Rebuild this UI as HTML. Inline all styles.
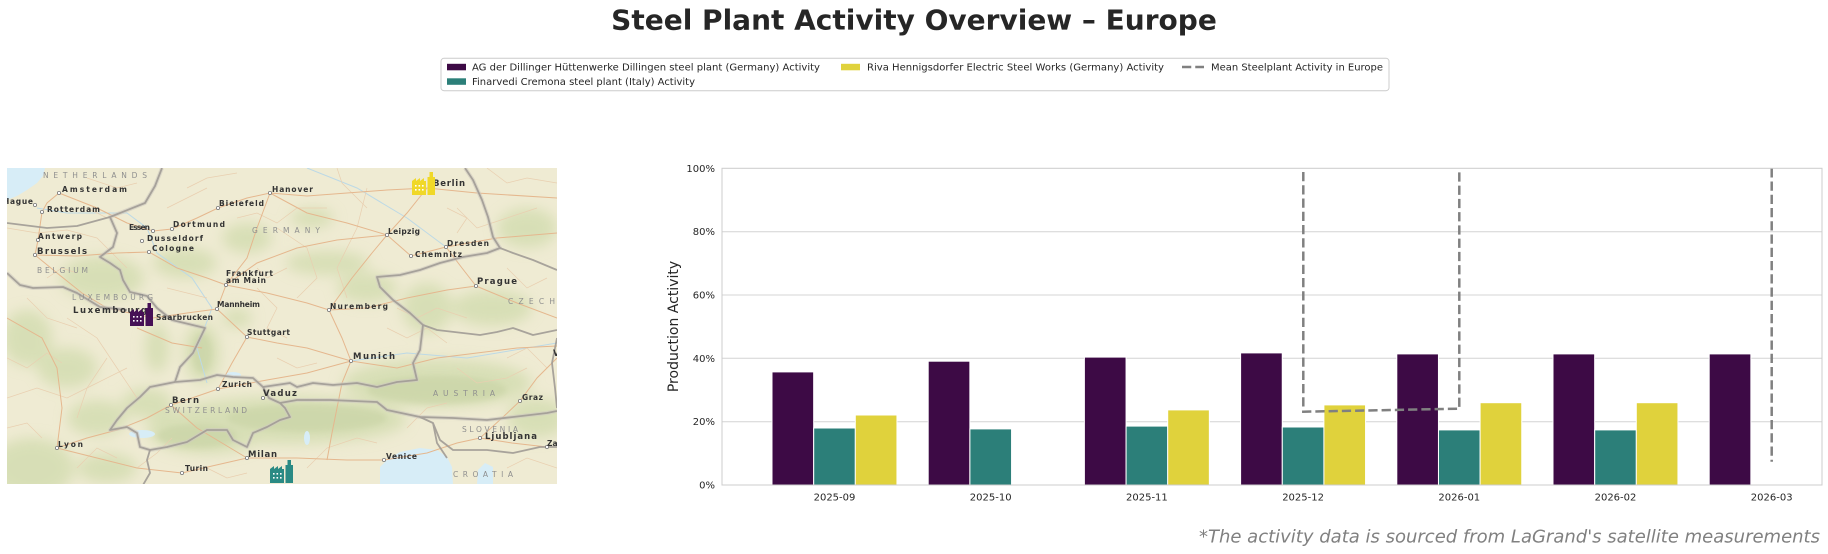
<!DOCTYPE html>
<html>
<head>
<meta charset="utf-8">
<style>
  html,body{margin:0;padding:0;background:#fff;}
  svg{display:block;}
  text{font-family:"DejaVu Sans","Liberation Sans",sans-serif;}
</style>
</head>
<body>
<svg width="1828" height="554" viewBox="0 0 1828 554" xmlns="http://www.w3.org/2000/svg">
  <defs>
    <clipPath id="mc"><rect x="0" y="0" width="550" height="316"/></clipPath>
    <clipPath id="pc"><rect x="722" y="168.3" width="1100" height="316.7"/></clipPath>
    <filter id="bl" x="-30%" y="-30%" width="160%" height="160%"><feGaussianBlur stdDeviation="7"/></filter>
    <filter id="bl2" x="-30%" y="-30%" width="160%" height="160%"><feGaussianBlur stdDeviation="3"/></filter>
  </defs>

  <!-- Title -->
  <text x="914" y="29.3" text-anchor="middle" font-size="28" font-weight="bold" fill="#262626">Steel Plant Activity Overview – Europe</text>

  <!-- Legend -->
  <rect x="441" y="58.3" width="948" height="32.4" rx="3" fill="#fff" stroke="#cccccc" stroke-width="1"/>
  <rect x="447" y="63.8" width="19" height="6.5" fill="#3d0a45"/>
  <text x="472" y="70.6" font-size="10" fill="#262626" textLength="348" lengthAdjust="spacingAndGlyphs">AG der Dillinger Hüttenwerke Dillingen steel plant (Germany) Activity</text>
  <rect x="447" y="78.3" width="19" height="6.5" fill="#2c7f79"/>
  <text x="472" y="85.1" font-size="10" fill="#262626" textLength="223" lengthAdjust="spacingAndGlyphs">Finarvedi Cremona steel plant (Italy) Activity</text>
  <rect x="841" y="63.8" width="19" height="6.5" fill="#e0d23c"/>
  <text x="867" y="70.6" font-size="10" fill="#262626" textLength="297" lengthAdjust="spacingAndGlyphs">Riva Hennigsdorfer Electric Steel Works (Germany) Activity</text>
  <line x1="1182" y1="67" x2="1204" y2="67" stroke="#808080" stroke-width="2.5" stroke-dasharray="9.25,4"/>
  <text x="1211" y="70.6" font-size="10" fill="#262626" textLength="172" lengthAdjust="spacingAndGlyphs">Mean Steelplant Activity in Europe</text>

  <!-- MAP -->
  <g transform="translate(7,168)">
    <g clip-path="url(#mc)">
      <rect x="0" y="0" width="550" height="316" fill="#efebd3"/>
      <!-- green relief -->
      <g fill="#d2dcaf" filter="url(#bl)" opacity="0.8">
        <ellipse cx="95" cy="110" rx="42" ry="22"/>
        <ellipse cx="178" cy="95" rx="32" ry="15"/>
        <ellipse cx="305" cy="50" rx="22" ry="10"/>
        <ellipse cx="320" cy="95" rx="42" ry="12"/>
        <ellipse cx="195" cy="185" rx="18" ry="30"/>
        <ellipse cx="150" cy="180" rx="12" ry="25"/>
        <ellipse cx="420" cy="140" rx="25" ry="25"/>
        <ellipse cx="485" cy="140" rx="40" ry="18"/>
        <ellipse cx="280" cy="252" rx="120" ry="24"/>
        <ellipse cx="430" cy="215" rx="95" ry="24"/>
        <ellipse cx="200" cy="262" rx="60" ry="24"/>
        <ellipse cx="140" cy="235" rx="25" ry="15"/>
        <ellipse cx="25" cy="300" rx="42" ry="30"/>
        <ellipse cx="90" cy="250" rx="30" ry="18"/>
        <ellipse cx="530" cy="250" rx="30" ry="20"/>
        <ellipse cx="20" cy="170" rx="25" ry="28"/>
        <ellipse cx="230" cy="150" rx="15" ry="10"/>
        <ellipse cx="360" cy="120" rx="30" ry="15"/>
        <ellipse cx="240" cy="70" rx="25" ry="15"/>
        <ellipse cx="520" cy="60" rx="30" ry="20"/>
        <ellipse cx="60" cy="200" rx="30" ry="20"/>
        <ellipse cx="100" cy="300" rx="30" ry="15"/>
      </g>
      <g fill="#c8d3a4" filter="url(#bl2)" opacity="0.6">
        <ellipse cx="300" cy="250" rx="80" ry="14"/>
        <ellipse cx="430" cy="222" rx="70" ry="14"/>
        <ellipse cx="190" cy="268" rx="40" ry="12"/>
        <ellipse cx="195" cy="185" rx="10" ry="20"/>
      </g>
      <!-- water -->
      <polygon points="0,0 38,0 36,8 30,15 20,22 10,28 0,32" fill="#d7edf7"/>
      <polygon points="373,299 380,292 393,284 413,280 430,282 440,289 445,299 446,317 373,317" fill="#d7edf7"/>
      <polygon points="470,317 471,302 478,295 486,299 486,317" fill="#d7edf7"/>
      <ellipse cx="135" cy="266" rx="13" ry="4" fill="#d7edf7"/>
      <ellipse cx="226" cy="207" rx="8" ry="3" fill="#d7edf7"/>
      <ellipse cx="300" cy="270" rx="3" ry="7" fill="#d7edf7"/>
      <!-- rivers -->
      <g fill="none" stroke="#bcd9e6" stroke-width="1">
        <polyline points="200,215 190,180 205,140 185,110 150,85 140,60 120,45 60,45 30,40"/>
        <polyline points="439,79 400,50 350,20 300,0"/>
        <polyline points="344,193 400,185 460,190 550,175"/>
      </g>
      <!-- minor roads -->
      <g fill="none" stroke="#e9cfb0" stroke-width="0.7">
        <polyline points="0,60 30,65 60,62 90,70 120,100"/>
        <polyline points="60,150 90,170 110,200 130,230"/>
        <polyline points="0,230 30,220 60,230 90,215 120,200"/>
        <polyline points="270,60 300,80 310,110 290,130"/>
        <polyline points="360,20 350,60 330,100 340,130"/>
        <polyline points="450,40 470,60 500,50 530,40"/>
        <polyline points="500,100 520,120 540,110"/>
        <polyline points="380,160 400,170 420,160 440,175"/>
        <polyline points="250,120 270,140 260,160 280,170"/>
        <polyline points="100,190 80,220 70,250"/>
        <polyline points="300,300 320,280 350,270 370,275"/>
        <polyline points="450,200 470,215 500,210 520,200"/>
        <polyline points="180,20 200,10 230,5"/>
        <polyline points="80,10 110,20 130,15"/>
        <polyline points="20,130 40,150 70,160"/>
        <polyline points="400,260 420,240 440,235"/>
        <polyline points="130,300 150,285 165,270"/>
        <polyline points="0,190 20,200 40,185 55,195"/>
        <polyline points="0,260 20,255 35,270"/>
        <polyline points="70,300 90,280 110,290"/>
        <polyline points="160,40 180,30 200,20"/>
        <polyline points="230,50 250,45 270,55 290,40 320,40"/>
        <polyline points="330,0 335,15 360,40"/>
        <polyline points="480,0 500,15 520,10 550,15"/>
        <polyline points="500,190 520,180 540,200"/>
        <polyline points="390,140 410,150 430,140 460,150"/>
        <polyline points="270,190 290,200 310,195"/>
        <polyline points="160,120 180,125 200,130"/>
        <polyline points="80,40 100,50 115,45"/>
        <polyline points="40,110 55,100 70,105"/>
        <polyline points="280,100 260,110 250,100"/>
        <polyline points="440,40 460,50 450,65"/>
        <polyline points="500,300 520,290 550,300"/>
        <polyline points="200,300 220,310 240,305"/>
      </g>
      <!-- motorways -->
      <g fill="none" stroke="#e5b78e" stroke-width="1">
        <polyline points="52,25 40,35 35,44 33,58 31,72 28,87"/>
        <polyline points="28,87 50,105 75,125 100,140"/>
        <polyline points="28,87 70,88 110,85 142,84"/>
        <polyline points="52,25 90,40 120,55 146,63 165,61 190,50 211,40 240,30 263,25 300,28 340,25 380,22 420,20"/>
        <polyline points="142,84 170,100 200,110 219,117 260,125 300,135 322,142 360,140 400,130 440,122 469,118"/>
        <polyline points="219,117 250,95 290,80 330,72 380,67 400,45 420,20"/>
        <polyline points="380,67 404,88 439,79 455,100 469,118"/>
        <polyline points="219,117 210,141 225,155 240,169 270,175 300,180 344,193"/>
        <polyline points="146,150 180,145 210,141"/>
        <polyline points="100,140 146,150"/>
        <polyline points="344,193 335,170 322,142"/>
        <polyline points="344,193 390,200 430,190 470,185 510,180 550,178"/>
        <polyline points="344,193 300,205 260,212 211,221"/>
        <polyline points="240,169 225,195 211,221"/>
        <polyline points="211,221 185,230 164,237 140,250 110,262 80,270 50,280"/>
        <polyline points="164,237 190,260 215,275 240,290"/>
        <polyline points="240,290 205,298 175,305"/>
        <polyline points="240,290 290,290 340,292 377,292"/>
        <polyline points="50,280 90,290 130,300 175,305"/>
        <polyline points="513,233 495,250 473,270 505,275 540,279"/>
        <polyline points="550,190 530,210 513,233"/>
        <polyline points="377,292 420,285 450,275 473,270"/>
        <polyline points="344,193 335,215 330,240 325,265 320,292"/>
        <polyline points="50,280 55,240 50,200 35,170 0,150"/>
        <polyline points="130,160 165,175 195,180"/>
        <polyline points="263,25 300,45 340,55 380,67"/>
        <polyline points="263,25 250,60 240,90 219,117"/>
        <polyline points="420,20 470,25 550,30"/>
        <polyline points="439,79 490,70 550,65"/>
        <polyline points="469,118 510,135 550,150"/>
        <polyline points="322,142 345,110 365,85 380,67"/>
      </g>
      <!-- borders -->
      <g fill="none" stroke="#cfcac0" stroke-width="4" stroke-linejoin="round" opacity="0.6">
        <polyline points="155,0 148,18 138,35 103,49 110,65 106,79 93,89 103,95 113,102 116,112 123,124 140,128 150,140 165,152 198,160 186,185 173,199 168,214"/>
        <polyline points="0,105 13,117 26,120 56,119 70,125 93,139 120,142"/>
        <polyline points="168,214 193,212 210,207 226,209 246,210 256,219 283,215 290,219 306,215 326,217 350,215 370,219 390,214 410,212 406,195 413,182 416,157 403,145 386,132 373,119 370,109 393,107 413,102 433,95 456,89 480,85 493,80 486,69 481,49 475,32 466,12 458,0"/>
        <polyline points="168,214 143,219 133,229 120,240 110,252 103,262 120,259 130,265 133,279 143,282"/>
        <polyline points="143,282 160,279 180,274 200,262 220,262 226,272 240,279 246,265 260,259 273,252 283,249 278,240 273,235"/>
        <polyline points="256,219 262,230 273,235 290,232 323,232 370,234 380,242 413,249 446,250 480,252 506,249 540,245 550,243"/>
      </g>
      <g fill="none" stroke="#a19c96" stroke-width="1.8" stroke-linejoin="round" opacity="0.9">
        <polyline points="155,0 148,18 138,35 103,49 110,65 106,79 93,89 103,95 113,102 116,112 123,124 140,128 150,140 165,152 198,160 186,185 173,199 168,214"/>
        <polyline points="0,55 40,60 70,58 103,49"/>
        <polyline points="0,105 13,117 26,120 56,119 70,125 93,139 120,142"/>
        <polyline points="168,214 193,212 210,207 226,209 246,210 256,219 283,215 290,219 306,215 326,217 350,215 370,219 390,214 410,212 406,195 413,182 416,157 403,145 386,132 373,119 370,109 393,107 413,102 433,95 456,89 480,85 493,80 486,69 481,49 475,32 466,12 458,0"/>
        <polyline points="493,80 506,85 526,92 550,102"/>
        <polyline points="416,157 430,162 473,167 490,164 506,160 526,167 550,162"/>
        <polyline points="168,214 143,219 133,229 120,240 110,252 103,262 120,259 130,265 133,279 143,282"/>
        <polyline points="143,282 160,279 180,274 200,262 220,262 226,272 240,279 246,265 260,259 273,252 283,249 278,240 273,235"/>
        <polyline points="256,219 262,230 273,235 290,232 323,232 370,234 380,242 413,249 446,250 480,252 506,249 540,245 550,243"/>
        <polyline points="413,249 426,255 433,272 446,282 480,282 506,285 533,279 550,279"/>
        <polyline points="426,255 430,275 440,290"/>
        <polyline points="143,282 140,292 143,305 136,317"/>
        <polyline points="550,170 545,195 548,220 550,240"/>
      </g>
      <!-- city dots -->
      <g fill="#fff" stroke="#7a7a7a" stroke-width="0.8">
        <circle cx="52" cy="25" r="1.6"/><circle cx="28" cy="37" r="1.6"/><circle cx="35" cy="44" r="1.6"/>
        <circle cx="31" cy="72" r="1.6"/><circle cx="28" cy="87" r="1.6"/><circle cx="146" cy="63" r="1.6"/>
        <circle cx="165" cy="61" r="1.6"/><circle cx="135" cy="73" r="1.6"/><circle cx="142" cy="84" r="1.6"/>
        <circle cx="211" cy="40" r="1.6"/><circle cx="263" cy="25" r="1.6"/><circle cx="380" cy="67" r="1.6"/>
        <circle cx="439" cy="79" r="1.6"/><circle cx="404" cy="88" r="1.6"/><circle cx="469" cy="118" r="1.6"/>
        <circle cx="219" cy="117" r="1.6"/><circle cx="210" cy="141" r="1.6"/><circle cx="240" cy="169" r="1.6"/>
        <circle cx="322" cy="142" r="1.6"/><circle cx="344" cy="193" r="1.6"/><circle cx="211" cy="221" r="1.6"/>
        <circle cx="256" cy="230" r="1.6"/><circle cx="164" cy="237" r="1.6"/><circle cx="50" cy="280" r="1.6"/>
        <circle cx="240" cy="290" r="1.6"/><circle cx="175" cy="305" r="1.6"/><circle cx="377" cy="292" r="1.6"/>
        <circle cx="513" cy="233" r="1.6"/><circle cx="473" cy="270" r="1.6"/><circle cx="540" cy="279" r="1.6"/>
      </g>
      <!-- country labels -->
      <g font-size="7.5" fill="#8f8f8f">
        <text x="36" y="10" textLength="104" lengthAdjust="spacing">NETHERLANDS</text>
        <text x="245" y="65" textLength="68" lengthAdjust="spacing">GERMANY</text>
        <text x="30" y="105" textLength="51" lengthAdjust="spacing">BELGIUM</text>
        <text x="65" y="132" textLength="81" lengthAdjust="spacing">LUXEMBOURG</text>
        <text x="501" y="136" textLength="47" lengthAdjust="spacing">CZECH</text>
        <text x="158" y="245" textLength="82" lengthAdjust="spacing">SWITZERLAND</text>
        <text x="426" y="228" textLength="62" lengthAdjust="spacing">AUSTRIA</text>
        <text x="455" y="264" textLength="56" lengthAdjust="spacing">SLOVENIA</text>
        <text x="446" y="309" textLength="60" lengthAdjust="spacing">CROATIA</text>
      </g>
      <!-- city labels -->
      <g font-size="7.5" fill="#333" font-weight="bold">
        <text x="55" y="24" textLength="65" lengthAdjust="spacing">Amsterdam</text>
        <text x="-4" y="36" textLength="30" lengthAdjust="spacing">Hague</text>
        <text x="40" y="44" textLength="53" lengthAdjust="spacing">Rotterdam</text>
        <text x="212" y="38" textLength="45" lengthAdjust="spacing">Bielefeld</text>
        <text x="265" y="24" textLength="41" lengthAdjust="spacing">Hanover</text>
        <text x="122" y="62" textLength="21" lengthAdjust="spacing">Essen</text>
        <text x="166" y="59" textLength="52" lengthAdjust="spacing">Dortmund</text>
        <text x="31" y="71" textLength="44" lengthAdjust="spacing">Antwerp</text>
        <text x="140" y="73" textLength="56" lengthAdjust="spacing">Dusseldorf</text>
        <text x="145" y="83" textLength="42" lengthAdjust="spacing">Cologne</text>
        <text x="30" y="86" font-size="8.5" textLength="50" lengthAdjust="spacing">Brussels</text>
        <text x="219" y="108" textLength="47" lengthAdjust="spacing">Frankfurt</text>
        <text x="219" y="115" textLength="40" lengthAdjust="spacing">am Main</text>
        <text x="66" y="145" font-size="8.5" textLength="74" lengthAdjust="spacing">Luxembourg</text>
        <text x="149" y="152" textLength="57" lengthAdjust="spacing">Saarbrucken</text>
        <text x="210" y="139" textLength="43" lengthAdjust="spacing">Mannheim</text>
        <text x="426" y="18" font-size="8.5" textLength="32" lengthAdjust="spacing">Berlin</text>
        <text x="381" y="66" textLength="32" lengthAdjust="spacing">Leipzig</text>
        <text x="440" y="78" textLength="42" lengthAdjust="spacing">Dresden</text>
        <text x="408" y="89" textLength="47" lengthAdjust="spacing">Chemnitz</text>
        <text x="470" y="116" font-size="8.5" textLength="40" lengthAdjust="spacing">Prague</text>
        <text x="323" y="141" textLength="58" lengthAdjust="spacing">Nuremberg</text>
        <text x="240" y="167" textLength="43" lengthAdjust="spacing">Stuttgart</text>
        <text x="215" y="219" textLength="30" lengthAdjust="spacing">Zurich</text>
        <text x="256" y="228" font-size="8.5" textLength="34" lengthAdjust="spacing">Vaduz</text>
        <text x="165" y="235" font-size="8.5" textLength="27" lengthAdjust="spacing">Bern</text>
        <text x="51" y="279" textLength="25" lengthAdjust="spacing">Lyon</text>
        <text x="241" y="289" font-size="8.5" textLength="29" lengthAdjust="spacing">Milan</text>
        <text x="178" y="303" textLength="23" lengthAdjust="spacing">Turin</text>
        <text x="346" y="191" font-size="8.5" textLength="42" lengthAdjust="spacing">Munich</text>
        <text x="515" y="232" textLength="21" lengthAdjust="spacing">Graz</text>
        <text x="478" y="271" font-size="8.5" textLength="52" lengthAdjust="spacing">Ljubljana</text>
        <text x="540" y="278" textLength="30" lengthAdjust="spacing">Zagreb</text>
        <text x="379" y="291" textLength="31" lengthAdjust="spacing">Venice</text>
        <text x="546" y="188" font-size="8.5" textLength="34" lengthAdjust="spacing">Vienna</text>
      </g>
      <!-- factory icons -->
      <g transform="translate(123,135)" fill="#461055">
        <path d="M0,23 V9 L4,6 V9 L8,6 V9 L12,6 V9 L14,9 V23 Z"/>
        <rect x="15.5" y="5" width="7.5" height="18"/>
        <rect x="17.5" y="0" width="3.5" height="5"/>
        <g fill="#fff"><rect x="3" y="13" width="1.6" height="1.6"/><rect x="6.5" y="13" width="1.6" height="1.6"/><rect x="10" y="13" width="1.6" height="1.6"/><rect x="3" y="17" width="1.6" height="1.6"/><rect x="6.5" y="17" width="1.6" height="1.6"/><rect x="10" y="17" width="1.6" height="1.6"/></g>
      </g>
      <g transform="translate(405,4)" fill="#f0d828">
        <path d="M0,23 V9 L4,6 V9 L8,6 V9 L12,6 V9 L14,9 V23 Z"/>
        <rect x="15.5" y="5" width="7.5" height="18"/>
        <rect x="17.5" y="0" width="3.5" height="5"/>
        <g fill="#fff"><rect x="3" y="13" width="1.6" height="1.6"/><rect x="6.5" y="13" width="1.6" height="1.6"/><rect x="10" y="13" width="1.6" height="1.6"/><rect x="3" y="17" width="1.6" height="1.6"/><rect x="6.5" y="17" width="1.6" height="1.6"/><rect x="10" y="17" width="1.6" height="1.6"/></g>
      </g>
      <g transform="translate(263,292)" fill="#2a8a84">
        <path d="M0,23 V9 L4,6 V9 L8,6 V9 L12,6 V9 L14,9 V23 Z"/>
        <rect x="15.5" y="5" width="7.5" height="18"/>
        <rect x="17.5" y="0" width="3.5" height="5"/>
        <g fill="#fff"><rect x="3" y="13" width="1.6" height="1.6"/><rect x="6.5" y="13" width="1.6" height="1.6"/><rect x="10" y="13" width="1.6" height="1.6"/><rect x="3" y="17" width="1.6" height="1.6"/><rect x="6.5" y="17" width="1.6" height="1.6"/><rect x="10" y="17" width="1.6" height="1.6"/></g>
      </g>
    </g>
  </g>

  <!-- CHART -->
  <g stroke="#d4d4d4" stroke-width="1">
    <line x1="722" y1="421.7" x2="1822" y2="421.7"/>
    <line x1="722" y1="358.3" x2="1822" y2="358.3"/>
    <line x1="722" y1="295.0" x2="1822" y2="295.0"/>
    <line x1="722" y1="231.7" x2="1822" y2="231.7"/>
  </g>
  <g stroke="#fff" stroke-width="1">
    <rect x="772.0" y="371.9" width="41.65" height="113.1" fill="#3d0a45"/>
    <rect x="813.7" y="428.0" width="41.65" height="57.0" fill="#2c7f79"/>
    <rect x="855.3" y="415.0" width="41.65" height="70.0" fill="#e0d23c"/>

    <rect x="928.2" y="361.2" width="41.65" height="123.8" fill="#3d0a45"/>
    <rect x="969.9" y="428.9" width="41.65" height="56.1" fill="#2c7f79"/>

    <rect x="1084.4" y="357.1" width="41.65" height="127.9" fill="#3d0a45"/>
    <rect x="1126.1" y="426.1" width="41.65" height="58.9" fill="#2c7f79"/>
    <rect x="1167.7" y="409.9" width="41.65" height="75.1" fill="#e0d23c"/>

    <rect x="1240.6" y="352.9" width="41.65" height="132.1" fill="#3d0a45"/>
    <rect x="1282.3" y="427.0" width="41.65" height="58.0" fill="#2c7f79"/>
    <rect x="1323.9" y="404.9" width="41.65" height="80.1" fill="#e0d23c"/>

    <rect x="1396.8" y="353.9" width="41.65" height="131.1" fill="#3d0a45"/>
    <rect x="1438.5" y="429.9" width="41.65" height="55.1" fill="#2c7f79"/>
    <rect x="1480.1" y="402.7" width="41.65" height="82.3" fill="#e0d23c"/>

    <rect x="1553.0" y="353.9" width="41.65" height="131.1" fill="#3d0a45"/>
    <rect x="1594.7" y="429.9" width="41.65" height="55.1" fill="#2c7f79"/>
    <rect x="1636.3" y="402.7" width="41.65" height="82.3" fill="#e0d23c"/>

    <rect x="1709.2" y="353.9" width="41.65" height="131.1" fill="#3d0a45"/>
  </g>
  <g clip-path="url(#pc)" fill="none" stroke="#808080" stroke-width="2.5" stroke-dasharray="9.25,4">
    <polyline points="1303.3,172 1303.3,411.7 1459.3,408.7 1459.3,168.3"/>
    <polyline points="1771.7,168.3 1771.7,461.7"/>
  </g>
  <rect x="722" y="168.3" width="1100" height="316.7" fill="none" stroke="#cccccc" stroke-width="1"/>

  <g font-size="10" fill="#262626" text-anchor="end">
    <text x="715" y="488.5">0%</text>
    <text x="715" y="425.2">20%</text>
    <text x="715" y="361.8">40%</text>
    <text x="715" y="298.5">60%</text>
    <text x="715" y="235.2">80%</text>
    <text x="715" y="171.8">100%</text>
  </g>
  <text transform="translate(678,326.5) rotate(-90)" text-anchor="middle" font-size="14" fill="#262626">Production Activity</text>

  <g font-size="10" fill="#262626" text-anchor="middle">
    <text x="834.5" y="500.3">2025-09</text>
    <text x="990.7" y="500.3">2025-10</text>
    <text x="1146.9" y="500.3">2025-11</text>
    <text x="1303.1" y="500.3">2025-12</text>
    <text x="1459.3" y="500.3">2026-01</text>
    <text x="1615.5" y="500.3">2026-02</text>
    <text x="1771.7" y="500.3">2026-03</text>
  </g>

  <text x="1820" y="542.5" text-anchor="end" font-size="18" font-style="italic" fill="#808080">*The activity data is sourced from LaGrand's satellite measurements</text>
</svg>
</body>
</html>
